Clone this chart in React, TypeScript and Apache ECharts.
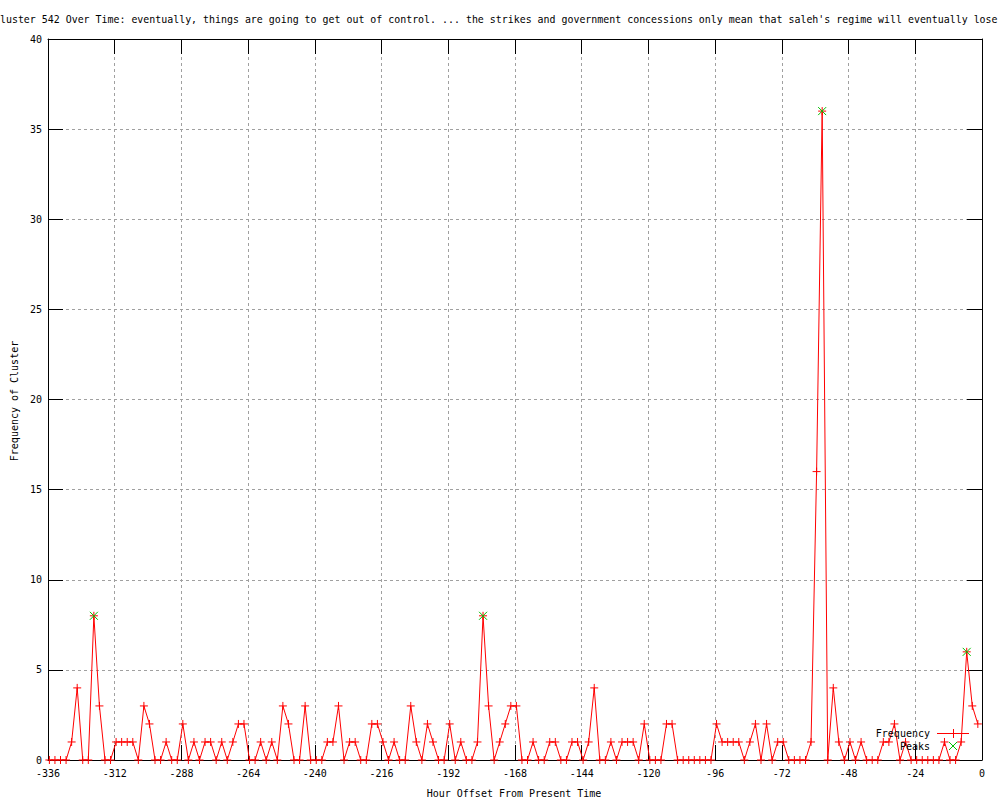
import React, { useEffect, useRef } from "react";
import * as echarts from "echarts";

const hours = [
  -335.5, -333.5, -331.5, -329.5, -327.5, -325.5, -323.5, -321.5, -319.5, -317.5,
  -315.5, -313.5, -311.5, -309.5, -307.5, -305.5, -303.5, -301.5, -299.5, -297.5,
  -295.5, -293.5, -291.5, -289.5, -287.5, -285.5, -283.5, -281.5, -279.5, -277.5,
  -275.5, -273.5, -271.5, -269.5, -267.5, -265.5, -263.5, -261.5, -259.5, -257.5,
  -255.5, -253.5, -251.5, -249.5, -247.5, -245.5, -243.5, -241.5, -239.5, -237.5,
  -235.5, -233.5, -231.5, -229.5, -227.5, -225.5, -223.5, -221.5, -219.5, -217.5,
  -215.5, -213.5, -211.5, -209.5, -207.5, -205.5, -203.5, -201.5, -199.5, -197.5,
  -195.5, -193.5, -191.5, -189.5, -187.5, -185.5, -183.5, -181.5, -179.5, -177.5,
  -175.5, -173.5, -171.5, -169.5, -167.5, -165.5, -163.5, -161.5, -159.5, -157.5,
  -155.5, -153.5, -151.5, -149.5, -147.5, -145.5, -143.5, -141.5, -139.5, -137.5,
  -135.5, -133.5, -131.5, -129.5, -127.5, -125.5, -123.5, -121.5, -119.5, -117.5,
  -115.5, -113.5, -111.5, -109.5, -107.5, -105.5, -103.5, -101.5, -99.5, -97.5,
  -95.5, -93.5, -91.5, -89.5, -87.5, -85.5, -83.5, -81.5, -79.5, -77.5,
  -75.5, -73.5, -71.5, -69.5, -67.5, -65.5, -63.5, -61.5, -59.5, -57.5,
  -55.5, -53.5, -51.5, -49.5, -47.5, -45.5, -43.5, -41.5, -39.5, -37.5,
  -35.5, -33.5, -31.5, -29.5, -27.5, -25.5, -23.5, -21.5, -19.5, -17.5,
  -15.5, -13.5, -11.5, -9.5, -7.5, -5.5, -3.5, -1.5,
];

const frequency = [
  0, 0, 0, 0, 1, 4, 0, 0, 8, 3,
  0, 0, 1, 1, 1, 1, 0, 3, 2, 0,
  0, 1, 0, 0, 2, 0, 1, 0, 1, 1,
  0, 1, 0, 1, 2, 2, 0, 0, 1, 0,
  1, 0, 3, 2, 0, 0, 3, 0, 0, 0,
  1, 1, 3, 0, 1, 1, 0, 0, 2, 2,
  1, 0, 1, 0, 0, 3, 1, 0, 2, 1,
  0, 0, 2, 0, 1, 0, 0, 1, 8, 3,
  0, 1, 2, 3, 3, 0, 0, 1, 0, 0,
  1, 1, 0, 0, 1, 1, 0, 1, 4, 0,
  0, 1, 0, 1, 1, 1, 0, 2, 0, 0,
  0, 2, 2, 0, 0, 0, 0, 0, 0, 0,
  2, 1, 1, 1, 1, 0, 1, 2, 0, 2,
  0, 1, 1, 0, 0, 0, 0, 1, 16, 36,
  0, 4, 1, 0, 1, 0, 1, 0, 0, 0,
  1, 1, 2, 0, 1, 0, 0, 0, 0, 0,
  0, 1, 0, 0, 1, 6, 3, 2,
];

const peakHours = [-319.5, -179.5, -57.5, -5.5];
const peakValues = [8, 8, 36, 6];

const titleText =
  "Cluster 542 Over Time: eventually, things are going to get out of control. ... the strikes and government concessions only mean that saleh's regime will eventually lose";
const xTitle = "Hour Offset From Present Time";
const yTitle = "Frequency of Cluster";
const legendNames = ["Frequency", "Peaks"];

export default function App() {
  const ref = useRef<HTMLDivElement>(null);
  useEffect(() => {
    document.body.style.margin = "0";
    const chart = echarts.init(ref.current!, null, { renderer: "svg" });
    const font = "'DejaVu Sans Mono', monospace";
    const plus = "path://M0,5L10,5M5,0L5,10";
    const cross = "path://M0,0L10,10M10,0L0,10";
    const red = "#ff0000";
    const green = "#00c000";
    const grid = { color: "#a0a0a0", type: [3, 3], width: 1 };
    const axisLine = { show: true, onZero: false, lineStyle: { color: "#000", width: 1 } };
    const axisTick = { show: true, inside: true, length: 15, lineStyle: { color: "#000", width: 1 } };
    const label = { color: "#000", fontFamily: font, fontSize: 10 };

    chart.setOption({
      animation: false,
      backgroundColor: "#ffffff",
      grid: { left: 48, right: 18, top: 39, bottom: 40 },
      xAxis: [
        {
          type: "value", min: -336, max: 0, interval: 24, position: "bottom",
          axisLine, axisTick,
          axisLabel: { ...label, margin: 8 },
          splitLine: { show: true, lineStyle: grid },
        },
        {
          type: "value", min: -336, max: 0, interval: 24, position: "top",
          axisLine, axisTick, axisLabel: { show: false }, splitLine: { show: false },
        },
      ],
      yAxis: [
        {
          type: "value", min: 0, max: 40, interval: 5, position: "left",
          axisLine, axisTick,
          axisLabel: { ...label, margin: 6 },
          splitLine: { show: true, lineStyle: grid },
        },
        {
          type: "value", min: 0, max: 40, interval: 5, position: "right",
          axisLine, axisTick, axisLabel: { show: false }, splitLine: { show: false },
        },
      ],
      series: [
        {
          type: "line",
          name: legendNames[0],
          xAxisIndex: 0,
          yAxisIndex: 0,
          data: hours.map((h, i) => [h, frequency[i]]),
          symbol: plus,
          symbolSize: 8,
          showSymbol: true,
          lineStyle: { color: red, width: 1 },
          itemStyle: { color: red, borderColor: red, borderWidth: 1 },
          emphasis: { disabled: true },
          z: 3,
        },
        {
          type: "scatter",
          name: legendNames[1],
          xAxisIndex: 0,
          yAxisIndex: 0,
          data: peakHours.map((h, i) => [h, peakValues[i]]),
          symbol: cross,
          symbolSize: 8,
          itemStyle: { color: green, borderColor: green, borderWidth: 1, opacity: 1 },
          emphasis: { disabled: true },
          z: 4,
        },
      ],
      graphic: [
        {
          type: "text", x: -6, y: 19, z: 10,
          style: { text: titleText, fontFamily: font, fontSize: 9.94, fill: "#000", align: "left", verticalAlign: "middle" },
        },
        {
          type: "text", x: 14, y: 401, rotation: Math.PI / 2, z: 10,
          style: { text: yTitle, fontFamily: font, fontSize: 10, fill: "#000", align: "center", verticalAlign: "middle" },
        },
        {
          type: "text", x: 514, y: 793, z: 10,
          style: { text: xTitle, fontFamily: font, fontSize: 10, fill: "#000", align: "center", verticalAlign: "middle" },
        },
        {
          type: "text", x: 930, y: 733, z: 10,
          style: { text: legendNames[0], fontFamily: font, fontSize: 10, fill: "#000", align: "right", verticalAlign: "middle" },
        },
        {
          type: "text", x: 930, y: 746, z: 10,
          style: { text: legendNames[1], fontFamily: font, fontSize: 10, fill: "#000", align: "right", verticalAlign: "middle" },
        },
        { type: "line", z: 10, shape: { x1: 937, y1: 733.5, x2: 969, y2: 733.5 }, style: { stroke: red, lineWidth: 1 } },
        { type: "line", z: 10, shape: { x1: 953.5, y1: 729, x2: 953.5, y2: 738 }, style: { stroke: red, lineWidth: 1 } },
        { type: "line", z: 10, shape: { x1: 949, y1: 742, x2: 957, y2: 750 }, style: { stroke: green, lineWidth: 1 } },
        { type: "line", z: 10, shape: { x1: 957, y1: 742, x2: 949, y2: 750 }, style: { stroke: green, lineWidth: 1 } },
      ],
    });
    return () => chart.dispose();
  }, []);
  return (
    <div
      ref={ref}
      style={{ position: "absolute", left: 0, top: 0, width: 1000, height: 800, background: "#fff" }}
    />
  );
}
